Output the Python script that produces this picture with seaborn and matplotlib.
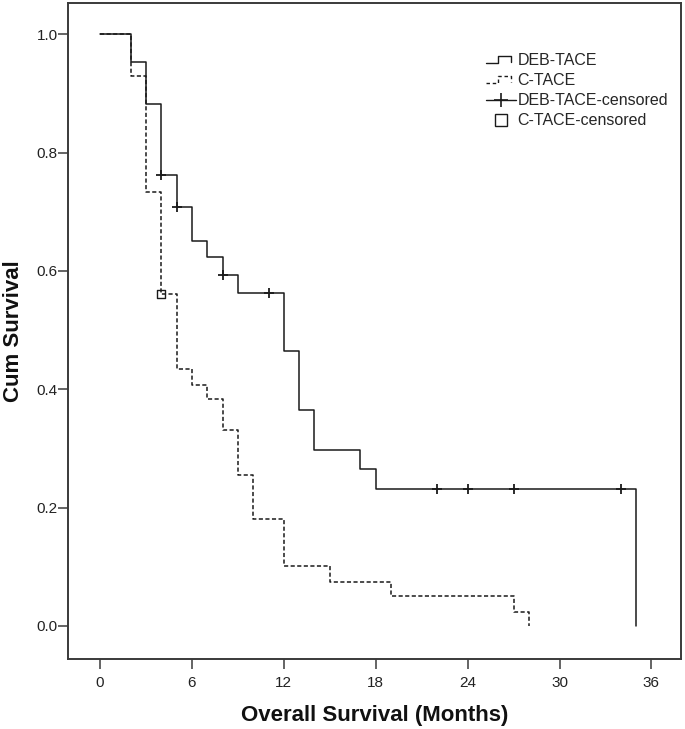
import numpy as np
import pandas as pd
import matplotlib
matplotlib.use("Agg")
import matplotlib.pyplot as plt
import seaborn as sns
from matplotlib.lines import Line2D
from matplotlib.legend_handler import HandlerBase

# Kaplan-Meier step values
deb_time = [0, 2, 3, 4, 5, 6, 7, 8, 9, 12, 13, 14, 17, 18, 35]
deb_surv = [1.0, 0.954, 0.883, 0.763, 0.708, 0.651, 0.623, 0.594, 0.563,
            0.465, 0.365, 0.298, 0.266, 0.232, 0.0]
c_time = [0, 2, 3, 4, 5, 6, 7, 8, 9, 10, 12, 15, 19, 27, 28]
c_surv = [1.0, 0.930, 0.733, 0.561, 0.435, 0.408, 0.383, 0.331, 0.255,
          0.180, 0.102, 0.075, 0.051, 0.024, 0.0]
deb_censored = [4, 5, 8, 11, 22, 24, 27, 34]
c_censored = [4]

x_ticks = [0, 6, 12, 18, 24, 30, 36]
y_ticks = [0.0, 0.2, 0.4, 0.6, 0.8, 1.0]
labels = ["DEB-TACE", "C-TACE", "DEB-TACE-censored", "C-TACE-censored"]

line_col = "#1a1a1a"
spine_col = "#3a3a3a"


def surv_at(times, surv, t):
    idx = np.searchsorted(times, t, side="right") - 1
    return [surv[i] for i in idx]


class StepHandler(HandlerBase):
    def __init__(self, ls):
        super().__init__()
        self.ls = ls

    def create_artists(self, legend, orig_handle, xdescent, ydescent, width, height, fontsize, trans):
        xs = np.array([0, 0.41, 0.41, 0.84, 0.84]) * width - xdescent
        ys = np.array([0.2, 0.2, 0.8, 0.8, 0.3]) * height - ydescent
        ln = Line2D(xs, ys, color=line_col, lw=1.0, ls=self.ls)
        ln.set_transform(trans)
        return [ln]


sns.set_style("ticks")
plt.rcParams["font.family"] = ["Liberation Sans", "DejaVu Sans"]

df = pd.DataFrame({
    "time": deb_time + c_time,
    "survival": deb_surv + c_surv,
    "group": ["DEB-TACE"] * len(deb_time) + ["C-TACE"] * len(c_time),
})
cens_deb = pd.DataFrame({"time": deb_censored,
                         "survival": surv_at(deb_time, deb_surv, deb_censored)})
cens_c = pd.DataFrame({"time": c_censored,
                       "survival": surv_at(c_time, c_surv, c_censored)})

fig = plt.figure(figsize=(6.85, 7.29), dpi=100)
ax = fig.add_axes([68 / 685, 1 - 659 / 729, (681 - 68) / 685, (659 - 3) / 729])

sns.lineplot(data=df, x="time", y="survival", hue="group", style="group",
             palette={"DEB-TACE": line_col, "C-TACE": line_col},
             dashes={"DEB-TACE": "", "C-TACE": (2.7, 1.6)},
             estimator=None, sort=False, drawstyle="steps-post",
             linewidth=1.1, legend=False, ax=ax)
sns.scatterplot(data=cens_deb, x="time", y="survival", marker="+", s=60,
                color=line_col, linewidth=1.3, ax=ax, zorder=5)
sns.scatterplot(data=cens_c, x="time", y="survival", marker="s", s=34,
                facecolor="none", edgecolor=line_col, linewidth=1.0, ax=ax, zorder=5)

ax.set_xlim(-2.09, 37.93)
ax.set_ylim(-0.056, 1.053)
ax.set_xticks(x_ticks)
ax.set_yticks(y_ticks)
ax.set_yticklabels([f"{v:.1f}" for v in y_ticks])
ax.tick_params(axis="both", direction="out", length=7, width=1.1,
               color=spine_col, labelsize=11, labelcolor="#222222")
ax.tick_params(axis="x", pad=5)
ax.tick_params(axis="y", pad=0.5)
for sp in ax.spines.values():
    sp.set_visible(True)
    sp.set_color(spine_col)
    sp.set_linewidth(1.4)
ax.tick_params(top=False, right=False)

ax.set_xlabel("Overall Survival (Months)", fontsize=16, fontweight="bold",
              color="#111111", labelpad=11)
ax.set_ylabel("Cum Survival", fontsize=16, fontweight="bold",
              color="#111111", labelpad=9)

h_deb = Line2D([], [], color=line_col)
h_c = Line2D([], [], color=line_col, ls="--")
h_deb_c = Line2D([], [], color=line_col, lw=1.0, marker="+", ms=10, mew=1.2)
h_c_c = Line2D([], [], ls="none", marker="s", ms=8, mfc="none", mec=line_col, mew=1.0)
fig.legend([h_deb, h_c, h_deb_c, h_c_c], labels,
           handler_map={h_deb: StepHandler("-"), h_c: StepHandler((0, (2.5, 2)))},
           loc="upper left", bbox_to_anchor=(486 / 685, 1 - 53 / 729),
           frameon=False, fontsize=11.5, handlelength=1.9, handletextpad=0.08,
           labelspacing=0.32, borderpad=0, borderaxespad=0, numpoints=1)

fig.savefig("out.png", dpi=100)
